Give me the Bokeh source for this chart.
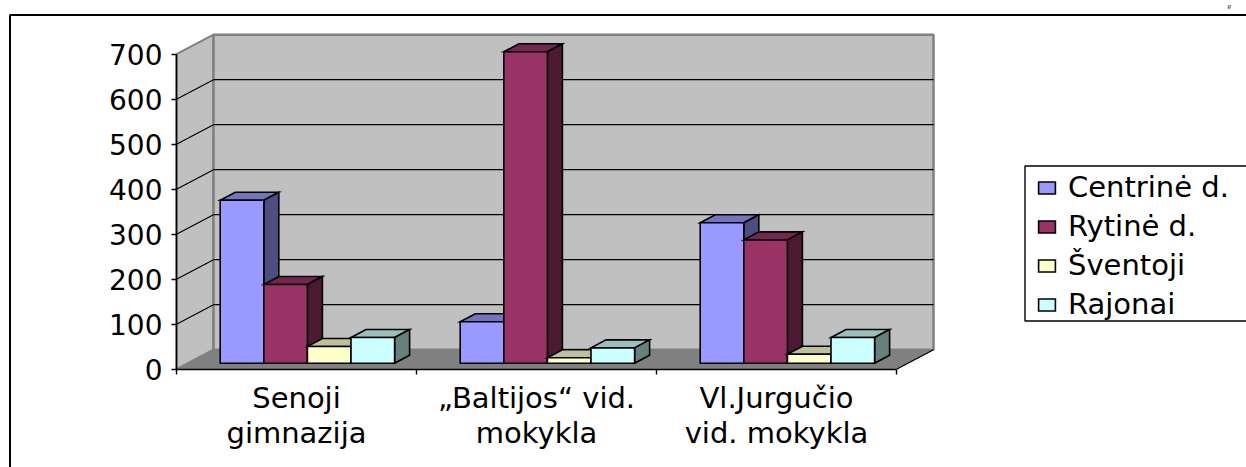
from bokeh.plotting import figure
from bokeh.models import Legend, LegendItem, LinearAxis, FixedTicker, Range1d, Label
from bokeh.embed import file_html
from bokeh.resources import INLINE

# ---- data ----
categories = ["Senoji\ngimnazija", "„Baltijos“ vid.\nmokykla", "Vl.Jurgučio\nvid. mokykla"]
series_names = ["Centrinė d.", "Rytinė d.", "Šventoji", "Rajonai"]
centrine = [362, 92, 312]
rytine = [175, 692, 274]
sventoji = [37, 12, 20]
rajonai = [57, 34, 57]
y_ticks = [0, 100, 200, 300, 400, 500, 600, 700]

# ---- styles ----
front = ["#9999FF", "#993366", "#FFFFCC", "#CCFFFF"]
top_c = ["#7373BF", "#732650", "#BFBF99", "#99BFBF"]
side_c = ["#4D4D80", "#4D1A33", "#808066", "#668080"]
FONT = "DejaVu Sans"
FS_Y = "28px"
FS_X = "29px"
FS_L = "29px"

# ---- scales: picture pixels per data unit ----
W, H = 1246, 467
OX, OY = 0, 0              # picture position of the figure's corner
X0, Y0 = 176.0, 368.7      # picture position of category 0 / value 0
PX_X, PX_Y = 240.0, 0.45   # pixels per category / per value
sx = lambda px: (px - X0) / PX_X
sy = lambda py: (Y0 - py) / PX_Y

p = figure(width=W, height=H, output_backend="svg", toolbar_location=None,
           x_range=Range1d(sx(OX), sx(OX + W)), y_range=Range1d(sy(OY + H), sy(OY)),
           min_border=0, min_border_left=0, min_border_right=0, min_border_top=0, min_border_bottom=0,
           x_axis_type=None, y_axis_type=None, outline_line_color=None)
p.grid.visible = False

# depth projection
DX = 37 / PX_X
DY = 19.5 / PX_Y
ymax = y_ticks[-1]
xmax = len(categories)

# walls and floor
p.patch([0, DX, DX, 0], [0, DY, ymax + DY, ymax], fill_color="#C0C0C0", line_color="#808080", line_width=2)
p.patch([DX, xmax + DX, xmax + DX, DX], [DY, DY, ymax + DY, ymax + DY], fill_color="#C0C0C0",
        line_color="#808080", line_width=2.5)
p.patch([0, xmax, xmax + DX, DX], [0, 0, DY, DY], fill_color="#808080", line_color="#808080", line_width=1)
p.line([xmax, xmax + DX], [0, DY], line_color="black", line_width=1.2)

# grid lines
for t in y_ticks[1:-1]:
    p.line([0, DX, xmax + DX], [t, t + DY, t + DY], line_color="black", line_width=1.2)

# bars
BAR_START = (219.7 - X0) / PX_X
BAR_W = 43.6 / PX_X
FLOOR_Y = (Y0 - 362.7) / PX_Y
SIDE_X = 15 / PX_X
SIDE_Y = 8 / PX_Y
series = [centrine, rytine, sventoji, rajonai]
legend_items = []
for ci in range(len(categories)):
    for si, vals in enumerate(series):
        x0 = ci + BAR_START + si * BAR_W
        x1 = x0 + BAR_W
        b = FLOOR_Y
        t = FLOOR_Y + vals[ci]
        kw = dict(line_color="black", line_width=1.6, line_join="miter")
        p.patch([x0, x1, x1 + SIDE_X, x0 + SIDE_X], [t, t, t + SIDE_Y, t + SIDE_Y], fill_color=top_c[si], **kw)
        p.patch([x1, x1 + SIDE_X, x1 + SIDE_X, x1], [b, b + SIDE_Y, t + SIDE_Y, t], fill_color=side_c[si], **kw)
        r = p.patch([x0, x1, x1, x0], [b, b, t, t], fill_color=front[si], **kw)
        if ci == 0:
            legend_items.append(LegendItem(label=series_names[si], renderers=[r]))

# axes
yaxis = LinearAxis(fixed_location=0, ticker=FixedTicker(ticks=y_ticks), bounds=(0, ymax),
                   major_tick_in=0, major_tick_out=5, minor_tick_line_color=None,
                   axis_line_color="black", axis_line_width=1.6,
                   major_tick_line_color="black", major_tick_line_width=1.4,
                   major_label_text_font=FONT, major_label_text_font_size=FS_Y,
                   major_label_text_color="black", major_label_standoff=9)
p.add_layout(yaxis, "left")

xaxis = LinearAxis(fixed_location=0, ticker=FixedTicker(ticks=list(range(len(categories) + 1))),
                   bounds=(0, xmax), major_tick_in=0, major_tick_out=5, minor_tick_line_color=None,
                   axis_line_color="black", axis_line_width=1.6,
                   major_tick_line_color="black", major_tick_line_width=1.4,
                   major_label_text_font_size="0px",
                   major_label_overrides={i: "" for i in range(len(categories) + 1)})
p.add_layout(xaxis, "below")

centers = [i + 0.5 for i in range(len(categories))]
xlab = LinearAxis(fixed_location=0, ticker=FixedTicker(ticks=centers), axis_line_color=None,
                  major_tick_line_color=None, minor_tick_line_color=None, major_tick_in=0, major_tick_out=0,
                  major_label_overrides={c: n for c, n in zip(centers, categories)},
                  major_label_text_font=FONT, major_label_text_font_size=FS_X, major_label_text_color="black",
                  major_label_text_line_height=1.03, major_label_standoff=12)
p.add_layout(xlab, "below")

# outer frame (open on the right and the bottom)
p.line([sx(9.5), sx(9.5), sx(1246)], [sy(467), sy(14.5), sy(14.5)], line_color="black", line_width=2)

# legend box, open at the right where the picture ends
LEFT, TOP, BOTTOM = 1024.5, 165.5, 320.5
p.patch([sx(LEFT), sx(1250), sx(1250), sx(LEFT)], [sy(TOP), sy(TOP), sy(BOTTOM), sy(BOTTOM)],
        fill_color="white", line_color="black", line_width=1.4)

legend = Legend(items=legend_items, location=(1036, 146), orientation="vertical",
                label_text_font=FONT, label_text_font_size=FS_L, label_text_color="black",
                glyph_width=21, glyph_height=15, label_standoff=11, spacing=5,
                padding=0, margin=0, border_line_color=None,
                background_fill_color=None)
p.add_layout(legend, "center")

# fragment of the running header at the page's top edge
p.add_layout(Label(x=sx(1227), y=sy(5), text="g", text_font="Liberation Serif", text_font_style="italic",
                   text_font_size="7px", text_color="black", text_baseline="alphabetic"))

open("out.html", "w").write(file_html(p, INLINE))
